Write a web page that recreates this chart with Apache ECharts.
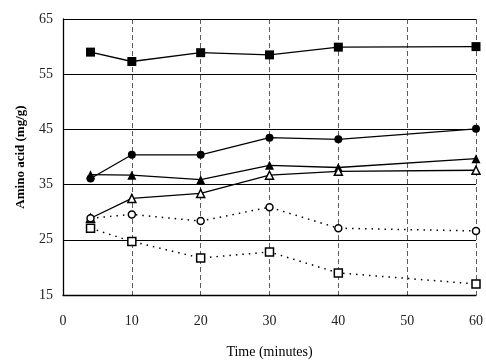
<!DOCTYPE html>
<html>
<head>
<meta charset="utf-8">
<script src="https://cdn.jsdelivr.net/npm/echarts@6/dist/echarts.min.js"></script>
<style>
  html, body { margin: 0; padding: 0; background: #fff; }
  #chart { width: 486px; height: 364px; }
</style>
</head>
<body>
<div id="chart"></div>
<script>
var times = [4, 10, 20, 30, 40, 60];
var filledSquare = [59.0, 57.3, 58.9, 58.5, 59.9, 60.0];
var filledCircle = [36.1, 40.4, 40.4, 43.5, 43.2, 45.1];
var filledTriangle = [36.8, 36.7, 35.9, 38.5, 38.1, 39.7];
var openTriangle = [28.9, 32.5, 33.4, 36.7, 37.4, 37.6];
var openCircle = [28.9, 29.6, 28.4, 30.9, 27.1, 26.6];
var openSquare = [27.1, 24.7, 21.7, 22.8, 19.0, 17.0];

function pairs(vals) {
    return times.map(function (t, i) { return [t, vals[i]]; });
}

var myChart = echarts.init(document.getElementById('chart'));
var font = '"Liberation Serif", "DejaVu Serif", serif';

function solid(name, vals, symbol, size) {
    return {
        name: name, type: 'line', data: pairs(vals),
        symbol: symbol, symbolSize: size,
        lineStyle: { color: '#000', width: 1.3 },
        itemStyle: { color: '#000' },
        animation: false
    };
}
function hollow(name, vals, symbol, size, dotted) {
    return {
        name: name, type: 'line', data: pairs(vals),
        symbol: symbol, symbolSize: size,
        lineStyle: { color: '#000', width: dotted ? 1.5 : 1.3, type: dotted ? [1.5, 5] : 'solid' },
        itemStyle: { color: '#fff', borderColor: '#000', borderWidth: 1.5 },
        animation: false
    };
}

var option = {
    backgroundColor: '#fff',
    grid: { left: 63, right: 9, top: 19, bottom: 68 },
    xAxis: {
        type: 'value', min: 0, max: 60, interval: 10,
        name: 'Time (minutes)', nameLocation: 'middle', nameGap: 50,
        nameTextStyle: { fontFamily: font, fontSize: 14, color: '#000' },
        axisLine: { show: true, lineStyle: { color: '#000', width: 1.3 } },
        axisTick: { show: false },
        axisLabel: { fontFamily: font, fontSize: 14, color: '#222', margin: 19 },
        splitLine: { show: true, lineStyle: { color: '#333', width: 0.8, type: [5, 3] } }
    },
    yAxis: {
        type: 'value', min: 15, max: 65, interval: 10,
        name: 'Amino acid (mg/g)', nameLocation: 'middle', nameGap: 36,
        nameTextStyle: { fontFamily: font, fontSize: 13, fontWeight: 'bold', color: '#000' },
        axisLine: { show: true, lineStyle: { color: '#000', width: 1.3 } },
        axisTick: { show: false },
        axisLabel: { fontFamily: font, fontSize: 14, color: '#222', margin: 10 },
        splitLine: { show: true, lineStyle: { color: '#000', width: 1 } }
    },
    series: [
        solid('filled square', filledSquare, 'rect', 9),
        solid('filled circle', filledCircle, 'circle', 8),
        solid('filled triangle', filledTriangle, 'triangle', 9),
        hollow('open triangle', openTriangle, 'triangle', 8, false),
        hollow('open circle', openCircle, 'circle', 7, true),
        hollow('open square', openSquare, 'rect', 8, true)
    ]
};

myChart.setOption(option);
</script>
</body>
</html>
